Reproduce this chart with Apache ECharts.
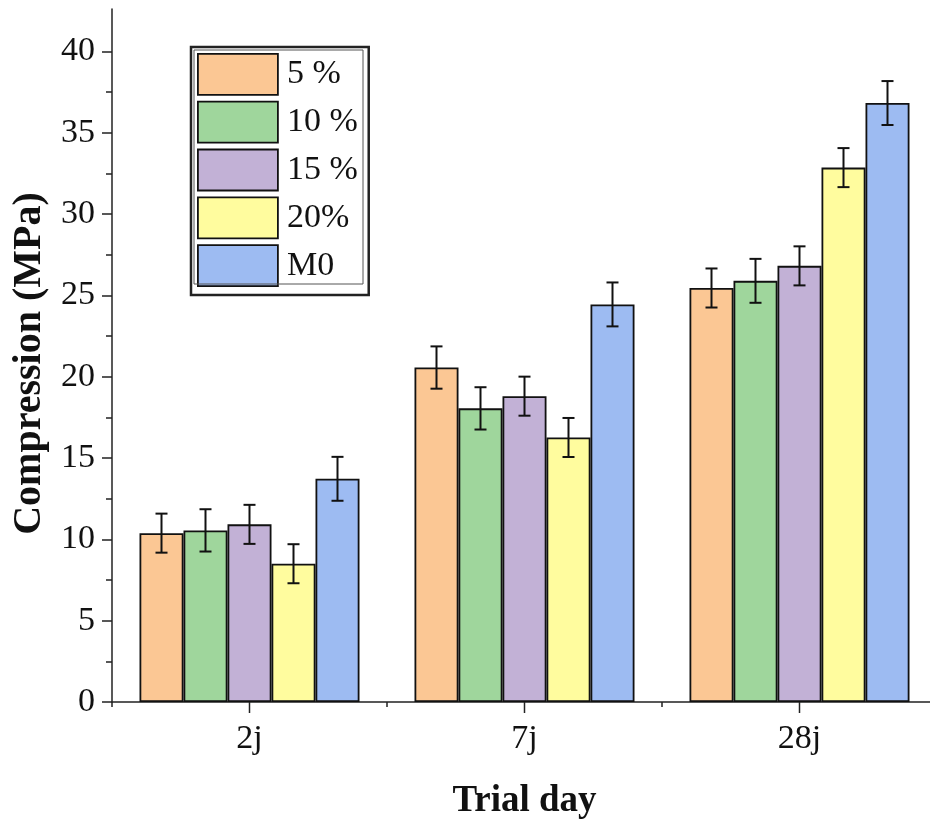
<!DOCTYPE html>
<html>
<head>
<meta charset="utf-8">
<script src="https://cdn.jsdelivr.net/npm/echarts@6/dist/echarts.min.js"></script>
<style>html,body{margin:0;padding:0;background:#fff;}#c{width:930px;height:819px;}</style>
</head>
<body>
<div id="c"></div>
<script>
const categories = ['2j', '7j', '28j'];
const seriesNames = ['5 %', '10 %', '15 %', '20%', 'M0'];
const val5 = [10.38, 20.56, 25.45];
const val10 = [10.55, 18.05, 25.89];
const val15 = [10.92, 18.8, 26.81];
const val20 = [8.5, 16.26, 32.85];
const valM0 = [13.72, 24.44, 36.82];
const err5 = [1.2, 1.3, 1.2];
const err10 = [1.3, 1.3, 1.35];
const err15 = [1.2, 1.2, 1.2];
const err20 = [1.2, 1.2, 1.2];
const errM0 = [1.35, 1.35, 1.35];
const yMajorTicks = [0, 5, 10, 15, 20, 25, 30, 35, 40];
const yMinorTicks = [2.5, 7.5, 12.5, 17.5, 22.5, 27.5, 32.5, 37.5];
const colors = ['#FBC794', '#9FD69C', '#C2B1D6', '#FFFC9E', '#9DBBF2'];

const values = [val5, val10, val15, val20, valM0];
const errors = [err5, err10, err15, err20, errM0];
const FONT = 'Liberation Serif';
const Y_MAX = 42.6;

const errData = [];
values.forEach((arr, s) => {
  arr.forEach((v, c) => {
    errData.push([c, s, v - errors[s][c], v + errors[s][c]]);
  });
});

const barSeries = seriesNames.map((name, i) => ({
  name: name,
  type: 'bar',
  xAxisIndex: 0,
  yAxisIndex: 0,
  data: values[i],
  barGap: '0%',
  barCategoryGap: '20%',
  itemStyle: { color: colors[i], borderColor: '#111', borderWidth: 1.8 },
  emphasis: { disabled: true }
}));

const errSeries = {
  type: 'custom',
  xAxisIndex: 0,
  yAxisIndex: 0,
  z: 10,
  silent: true,
  clip: false,
  data: errData,
  renderItem: function (params, api) {
    const c = api.value(0), s = api.value(1);
    const lo = api.value(2), hi = api.value(3);
    const center = api.coord([c, 0]);
    const bw = api.size([1, 0])[0] * 0.8 / 5;
    const x = center[0] + (s - 2) * bw;
    const yLo = api.coord([c, lo])[1];
    const yHi = api.coord([c, hi])[1];
    const cap = 6;
    const st = { stroke: '#111', lineWidth: 2 };
    return {
      type: 'group',
      children: [
        { type: 'line', shape: { x1: x, y1: yLo, x2: x, y2: yHi }, style: st },
        { type: 'line', shape: { x1: x - cap, y1: yLo, x2: x + cap, y2: yLo }, style: st },
        { type: 'line', shape: { x1: x - cap, y1: yHi, x2: x + cap, y2: yHi }, style: st }
      ]
    };
  }
};

const chart = echarts.init(document.getElementById('c'), null, { renderer: 'canvas' });
chart.setOption({
  animation: false,
  backgroundColor: '#fff',
  grid: { left: 112, top: 9, width: 825, height: 693, outerBoundsMode: 'none', containLabel: false },
  legend: {
    data: seriesNames,
    orient: 'vertical',
    left: 191,
    top: 47,
    padding: [6, 11, 8, 6],
    itemWidth: 80,
    itemHeight: 41,
    itemGap: 5,
    icon: 'rect',
    borderColor: '#222',
    borderWidth: 2.5,
    backgroundColor: '#fff',
    selectedMode: false,
    itemStyle: { borderColor: '#111', borderWidth: 1.8 },
    textStyle: { fontFamily: FONT, fontSize: 34, color: '#111', padding: [0, 0, 0, 4] }
  },
  xAxis: [
    {
      type: 'category',
      data: categories,
      position: 'bottom',
      axisLine: { show: true, lineStyle: { color: '#222', width: 1.5 } },
      axisTick: { show: true, alignWithLabel: false, length: 5, lineStyle: { color: '#222', width: 1.5 } },
      axisLabel: { fontFamily: FONT, fontSize: 34, color: '#111', margin: 20, backgroundColor: 'transparent', padding: 0 },
      name: 'Trial day',
      nameLocation: 'middle',
      nameGap: 81,
      nameTextStyle: { fontFamily: FONT, fontSize: 37, fontWeight: 'bold', color: '#111' },
      splitLine: { show: false }
    }
  ],
  yAxis: [
    {
      type: 'value',
      position: 'left',
      min: 0,
      max: Y_MAX,
      axisLine: { show: true, lineStyle: { color: '#222', width: 1.5 } },
      axisTick: { show: true, length: 10, customValues: yMajorTicks, lineStyle: { color: '#222', width: 1.5 } },
      axisLabel: { customValues: yMajorTicks, fontFamily: FONT, fontSize: 34, color: '#111', margin: 17 },
      splitLine: { show: false },
      name: 'Compression (MPa)',
      nameLocation: 'middle',
      nameGap: 62,
      nameTextStyle: { fontFamily: FONT, fontSize: 40, fontWeight: 'bold', color: '#111', padding: [0, 16, 0, 0] }
    },
    {
      type: 'value',
      position: 'left',
      min: 0,
      max: Y_MAX,
      axisLine: { show: false },
      axisTick: { show: true, length: 6, customValues: yMinorTicks, lineStyle: { color: '#222', width: 1.5 } },
      axisLabel: { show: false },
      splitLine: { show: false }
    }
  ],
  series: barSeries.concat([errSeries])
});

// Pixel position helpers read back from the library's axes
function pixelX(i) {
  let x = NaN;
  try { x = chart.convertToPixel({ xAxisIndex: 0 }, categories[i]); } catch (e) {}
  if (!isFinite(x)) { try { x = chart.convertToPixel({ xAxisIndex: 0 }, i); } catch (e) {} }
  if (!isFinite(x)) { try { x = chart.convertToPixel({ gridIndex: 0 }, [i, 0])[0]; } catch (e) {} }
  return x;
}
function pixelY(v) {
  let y = NaN;
  try { y = chart.convertToPixel({ yAxisIndex: 0 }, v); } catch (e) {}
  if (!isFinite(y)) { try { y = chart.convertToPixel({ gridIndex: 0 }, [0, v])[1]; } catch (e) {} }
  return y;
}

const y0 = pixelY(0);
const extras = [
  {
    id: 'legendInner',
    type: 'rect',
    x: 194,
    y: 50,
    shape: { x: 0, y: 0, width: 169, height: 234 },
    style: { fill: null, stroke: '#555', lineWidth: 1 },
    silent: true,
    z: 100
  }
];
categories.forEach((c, i) => {
  const x = pixelX(i);
  extras.push({
    id: 'ctick' + i,
    type: 'line',
    x: 0,
    y: 0,
    shape: { x1: x, y1: y0, x2: x, y2: y0 + 11 },
    style: { stroke: '#222', lineWidth: 1.5 },
    silent: true,
    z: 100
  });
});
chart.setOption({ graphic: { elements: extras } });
</script>
</body>
</html>
